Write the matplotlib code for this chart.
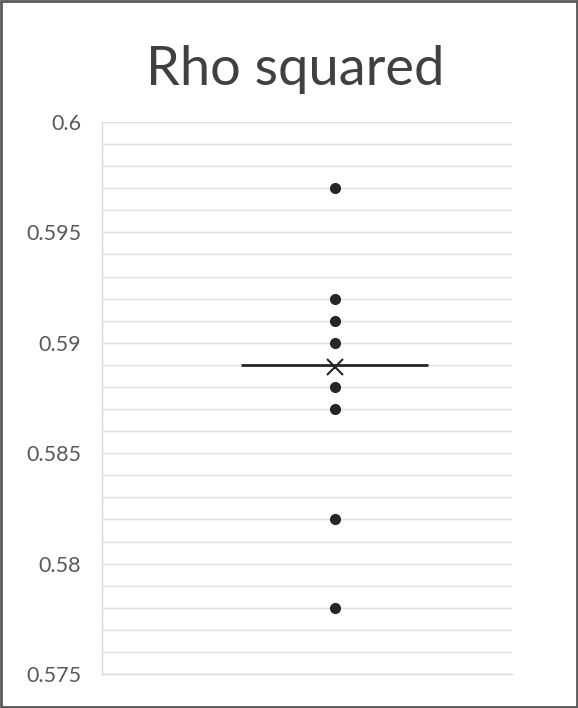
import matplotlib.pyplot as plt
from matplotlib.patches import Rectangle
from matplotlib.ticker import MultipleLocator

# values
rho_sq = [0.597, 0.592, 0.591, 0.590, 0.588, 0.587, 0.582, 0.578]
median_val = 0.589
mean_val = 0.58892
yticks = [0.575, 0.58, 0.585, 0.59, 0.595, 0.6]
ytick_labels = ["0.575", "0.58", "0.585", "0.59", "0.595", "0.6"]

plt.rcParams["font.family"] = ["Lato", "DejaVu Sans"]

fig = plt.figure(figsize=(5.78, 7.08), dpi=100)
ax = fig.add_axes([102 / 578, 1 - 674 / 708, 410 / 578, 552 / 708])

xpos = 1.0
ax.plot([xpos] * len(rho_sq), rho_sq, "o", color="#262626", markersize=7, zorder=3)
ax.hlines(median_val, xpos - 0.228, xpos + 0.228, color="#262626", linewidth=2, zorder=3)
ax.plot([xpos], [mean_val], "x", color="#262626", markersize=11, markeredgewidth=1.5, zorder=4)

ax.set_xlim(xpos - 0.568, xpos + 0.432)
ax.set_ylim(0.575, 0.6)
ax.set_yticks(yticks)
ax.set_yticklabels(ytick_labels)
ax.yaxis.set_minor_locator(MultipleLocator(0.001))
ax.set_xticks([])
ax.tick_params(axis="y", which="both", length=0, pad=15, labelsize=15.5, labelcolor="#595959")
ax.grid(axis="y", which="both", color="#e0e0e0", linewidth=1)
ax.set_axisbelow(True)

for side in ["top", "right"]:
    ax.spines[side].set_visible(False)
for side in ["left", "bottom"]:
    ax.spines[side].set_color("#d9d9d9")
    ax.spines[side].set_linewidth(1)

fig.text(0.51, 1 - 70 / 708, "Rho squared", ha="center", va="center",
         fontsize=39, color="#404040")

# outer frame
fig.add_artist(Rectangle((0.002, 0.002), 0.996, 0.996, transform=fig.transFigure,
                         fill=False, edgecolor="#595959", linewidth=2))

fig.savefig("out.png", dpi=100)
